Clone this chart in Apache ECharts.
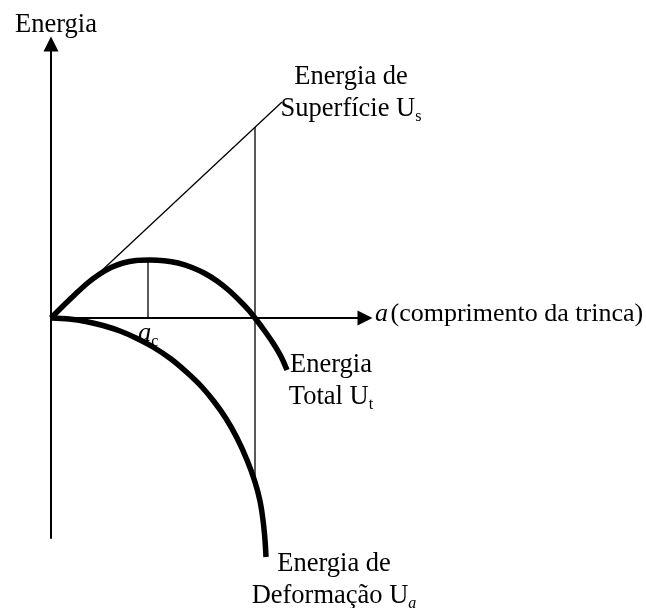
<!DOCTYPE html>
<html>
<head>
<meta charset="utf-8">
<script src="https://cdn.jsdelivr.net/npm/echarts@6/dist/echarts.min.js"></script>
<style>
  html, body { margin: 0; padding: 0; background: #fff; }
  #chart { width: 646px; height: 608px; }
</style>
</head>
<body>
<div id="chart"></div>
<script>
var myChart = echarts.init(document.getElementById('chart'));

// curve points (x = crack length, y = energy)
var surfaceX = [0, 231];
var surfaceY = [0, 216];
var totalX = [0, 12, 24, 36, 48, 60, 72, 85, 99, 113, 127, 141, 154, 166, 178, 190, 198, 204, 213, 222, 230, 236];
var totalY = [0, 12, 23.5, 34.5, 43.5, 50.5, 55, 57.5, 58, 57.3, 55, 50.5, 44.5, 37, 27.5, 16, 7.5, 0, -12, -25, -38.5, -52];
var deformX = [0, 18, 36, 52, 69, 85, 102, 120, 136, 150, 163, 175, 186, 196, 204, 209, 212, 214, 215];
var deformY = [0, -1, -3.7, -7.5, -13, -20, -29, -41, -54.5, -68, -83.5, -100.5, -120, -142, -164, -183, -202, -222, -239];
var acX = [97, 97];
var acY = [0, 58];
var critX = [204, 204];
var critY = [191, -165];

function pairs(xs, ys) {
    return xs.map(function (x, i) { return [x, ys[i]]; });
}

var font = 'Liberation Serif, Times New Roman, serif';
var fs = 26.5;
var thin = { color: '#000', width: 1.3 };
var thick = { color: '#000', width: 5.5, cap: 'butt', join: 'round' };

var axisCommon = {
    type: 'value',
    axisLine: {
        show: true,
        onZero: true,
        symbol: ['none', 'triangle'],
        symbolSize: [15, 15],
        lineStyle: { color: '#000', width: 2 }
    },
    axisTick: { show: false },
    axisLabel: { show: false },
    splitLine: { show: false }
};

var subRich = {
    n: { fontSize: fs, fontFamily: font, color: '#000', lineHeight: 32 },
    i: { fontSize: fs, fontFamily: font, fontStyle: 'italic', color: '#000', lineHeight: 32 },
    s: { fontSize: 16, fontFamily: font, color: '#000', verticalAlign: 'bottom' },
    si: { fontSize: 16, fontFamily: font, fontStyle: 'italic', color: '#000', verticalAlign: 'bottom' },
    an: { fontSize: 26, fontFamily: font, color: '#000', lineHeight: 32 },
    ai: { fontSize: 26, fontFamily: font, fontStyle: 'italic', color: '#000', lineHeight: 32 },
    g: { fontSize: 10, fontFamily: font, color: '#000' }
};

var option = {
    animation: false,
    grid: { left: 51, top: 44, width: 314, height: 494 },
    xAxis: Object.assign({ min: 0, max: 314 }, axisCommon),
    yAxis: Object.assign({ min: -220, max: 274 }, axisCommon),
    series: [
        { type: 'line', data: pairs(surfaceX, surfaceY), symbol: 'none', lineStyle: thin },
        { type: 'line', data: pairs(acX, acY), symbol: 'none', lineStyle: thin },
        { type: 'line', data: pairs(critX, critY), symbol: 'none', lineStyle: thin },
        { type: 'line', data: pairs(totalX, totalY), symbol: 'none', smooth: 0.3, lineStyle: thick, clip: false },
        { type: 'line', data: pairs(deformX, deformY), symbol: 'none', smooth: 0.3, lineStyle: thick, clip: false }
    ],
    graphic: [
        { type: 'text', style: { text: 'Energia', x: 56, y: 24.6, textAlign: 'center', textVerticalAlign: 'middle', font: fs + 'px ' + font, fill: '#000' } },
        { type: 'text', style: { text: '{ai|a}{g| }{an|(comprimento da trinca)}', rich: subRich, x: 375, y: 314.6, textAlign: 'left', textVerticalAlign: 'middle' } },
        { type: 'text', style: { text: '{i|a}{s|c}', rich: subRich, x: 138, y: 334, textAlign: 'left', textVerticalAlign: 'middle' } },
        { type: 'text', style: { text: '{n|Energia de}\n{n|Superfície U}{s|s}', rich: subRich, x: 351, y: 60.6, textAlign: 'center', textVerticalAlign: 'top' } },
        { type: 'text', style: { text: '{n|Energia}\n{n|Total U}{s|t}', rich: subRich, x: 331, y: 348.6, textAlign: 'center', textVerticalAlign: 'top' } },
        { type: 'text', style: { text: '{n|Energia de}\n{n|Deformação U}{si|a}', rich: subRich, x: 334, y: 547.6, textAlign: 'center', textVerticalAlign: 'top' } }
    ]
};
myChart.setOption(option);
</script>
</body>
</html>
